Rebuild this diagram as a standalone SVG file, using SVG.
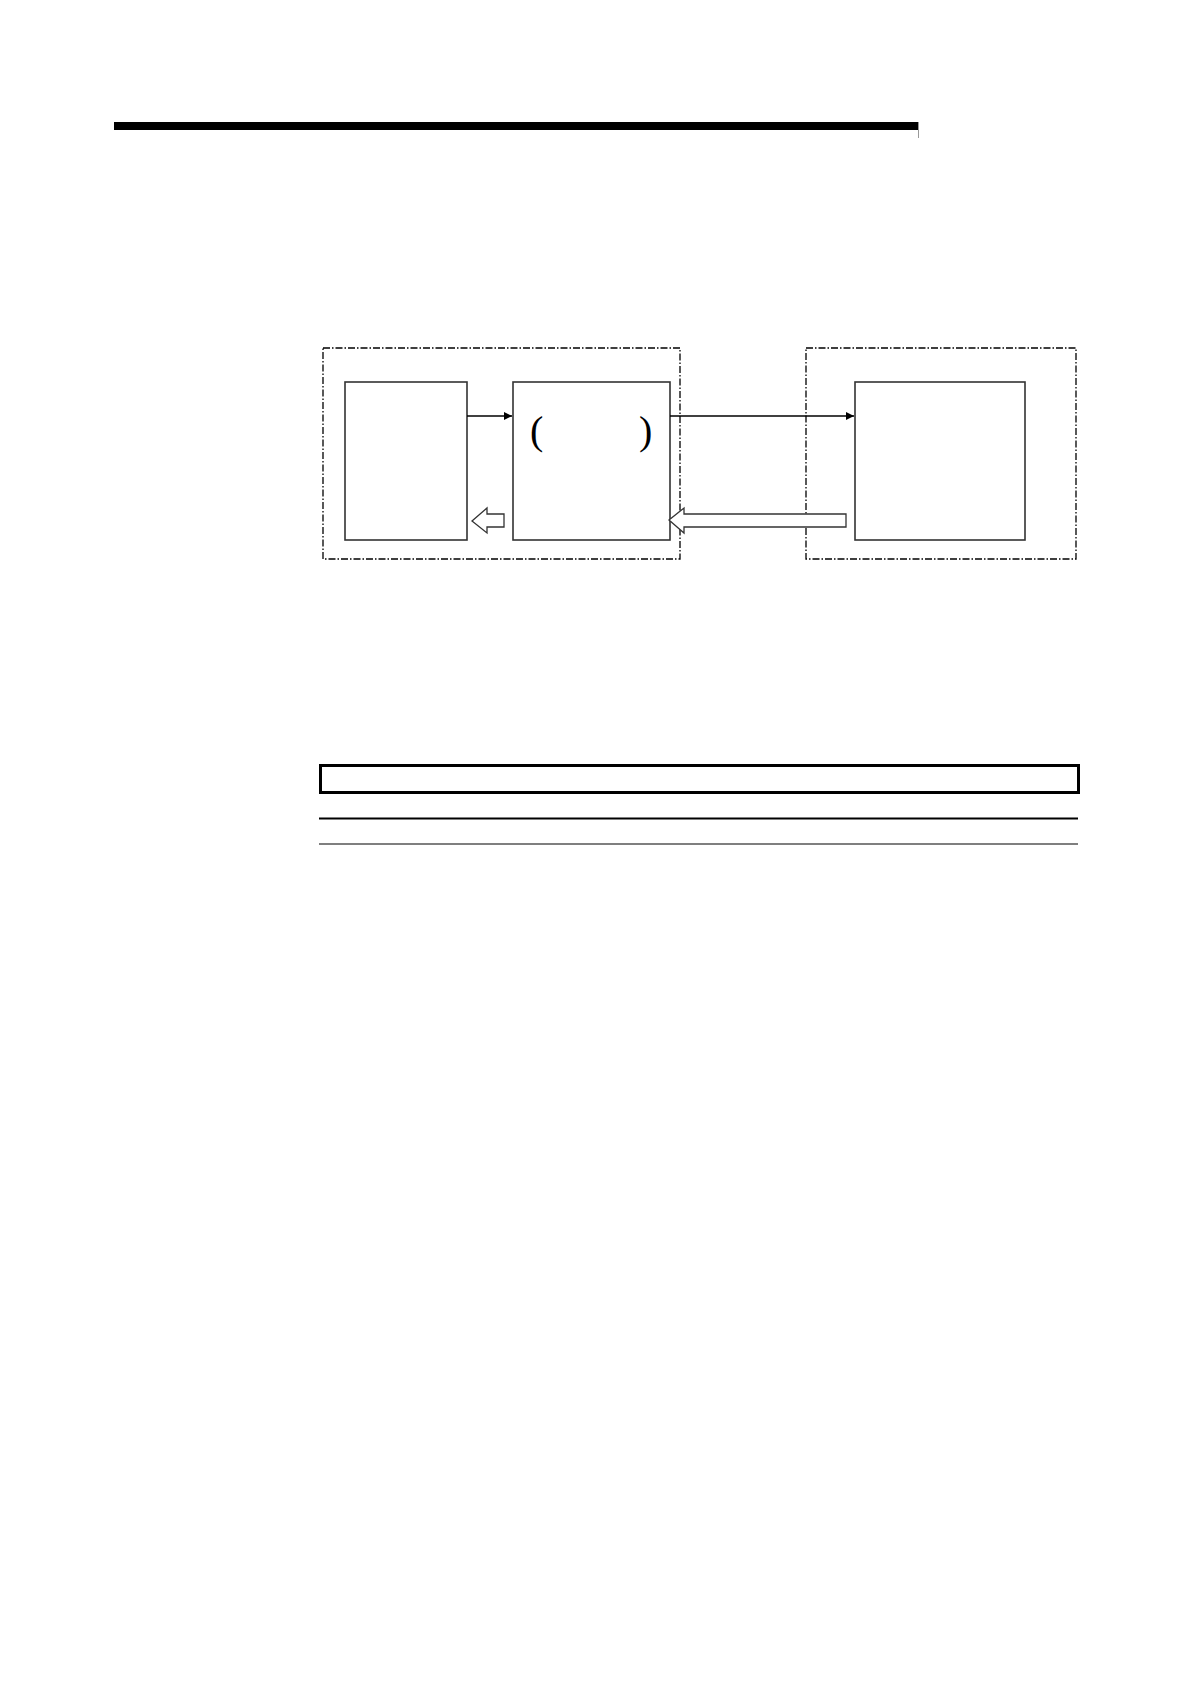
<svg xmlns="http://www.w3.org/2000/svg" width="1190" height="1684" viewBox="0 0 1190 1684">
<defs>
<style>
.grp{fill:none;stroke:#000;stroke-width:1.3;stroke-dasharray:7 2 1.5 2}
.box{fill:#fff;stroke:#333;stroke-width:1.6}
.ln{fill:none;stroke:#000;stroke-width:1.3}
.hollow{fill:#fff;stroke:#333;stroke-width:1.3;stroke-linejoin:miter}
.par{font-family:"Liberation Serif","Times New Roman",serif;font-size:40px;fill:#000}
</style>
<marker id="ah" viewBox="0 0 10 10" refX="10" refY="5" markerWidth="8" markerHeight="8" markerUnits="userSpaceOnUse" orient="auto">
<path d="M0,0 L10,5 L0,10 z" fill="#000"/>
</marker>
</defs>
<rect width="1190" height="1684" fill="#fff"/>
<g id="header">
<rect x="114" y="122" width="804" height="8" fill="#000"/>
<line x1="918.5" y1="122" x2="918.5" y2="138" stroke="#999" stroke-width="1"/>
</g>
<g id="group-left"><rect class="grp" x="323" y="348" width="357" height="211"/></g>
<g id="group-right"><rect class="grp" x="806" y="348" width="270" height="211"/></g>
<g id="node-1"><rect class="box" x="345" y="382" width="122" height="158"/></g>
<g id="node-2"><rect class="box" x="513" y="382" width="157" height="158"/>
<text class="par" x="530" y="444">(</text>
<text class="par" x="639" y="444">)</text>
</g>
<g id="node-3"><rect class="box" x="855" y="382" width="170" height="158"/></g>
<g id="connectors">
<line class="ln" x1="467" y1="416" x2="512" y2="416" marker-end="url(#ah)"/>
<line class="ln" x1="670" y1="416" x2="854" y2="416" marker-end="url(#ah)"/>
<polygon class="hollow" points="472,521 487,508 487,514 504,514 504,527 487,527 487,533"/>
<polygon class="hollow" points="669,520 684,508 684,514 846,514 846,527 684,527 684,533"/>
</g>
<g id="table">
<rect x="320.5" y="765.5" width="758" height="27" fill="none" stroke="#000" stroke-width="3"/>
<line x1="319" y1="818.5" x2="1078" y2="818.5" stroke="#000" stroke-width="2"/>
<line x1="319" y1="844" x2="1078" y2="844" stroke="#000" stroke-width="1.2"/>
</g>
</svg>
